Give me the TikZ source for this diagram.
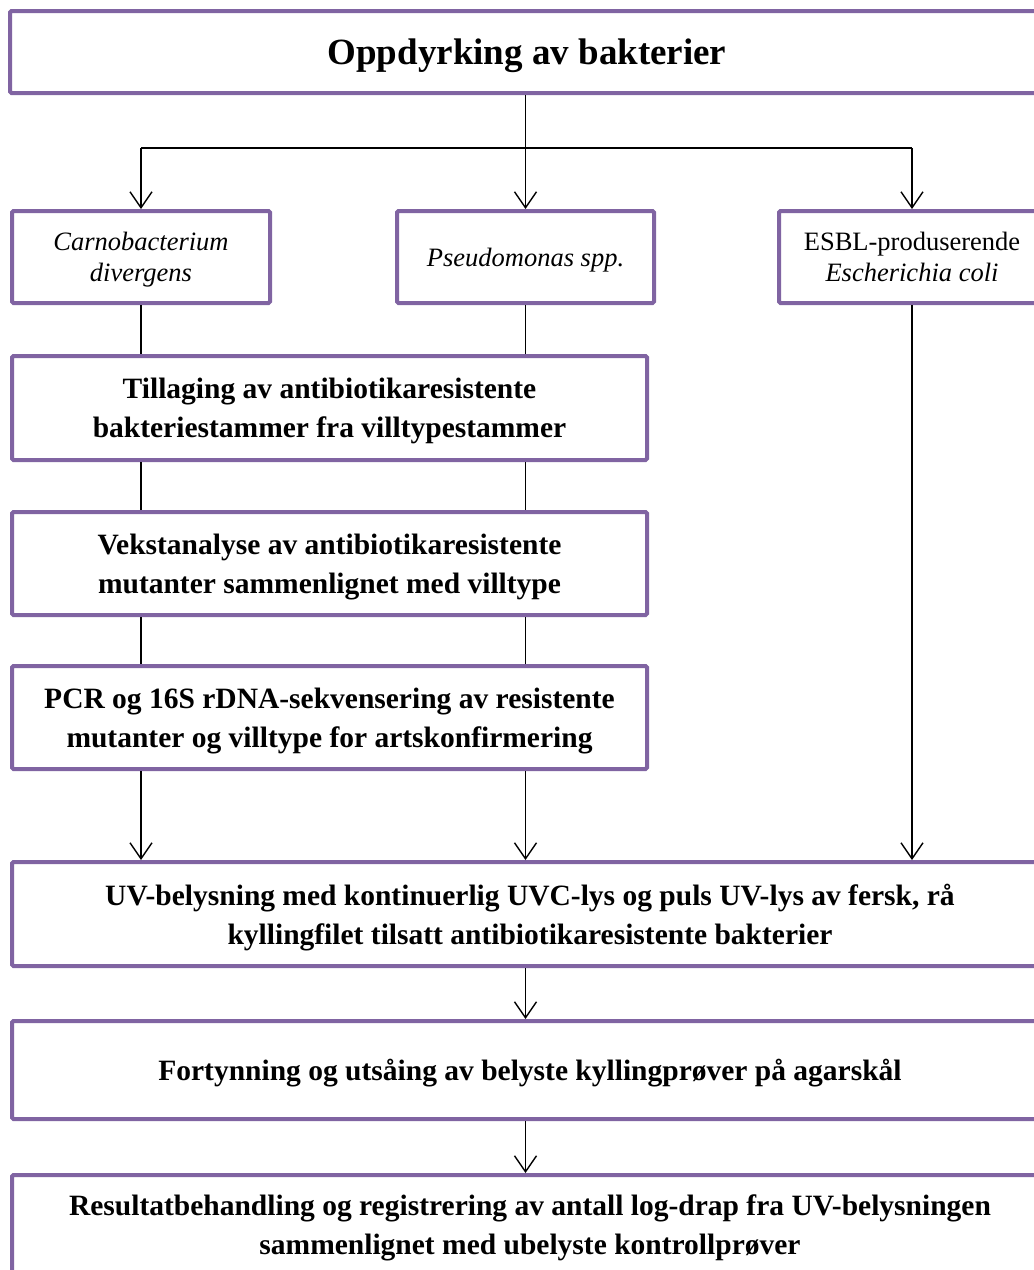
\documentclass[tikz,border=0pt]{standalone}
\usepackage{fontspec}
\setmainfont{Liberation Serif}
\usetikzlibrary{arrows.meta}
\definecolor{boxpurple}{HTML}{8064A2}
\begin{document}
\begin{tikzpicture}[x=1pt,y=-1pt,
 box/.style={draw=boxpurple,line width=4pt,rounded corners=1.5pt,fill=white,inner sep=0pt,align=center,text=black,text depth=0pt},
 conn/.style={draw=black,line width=1.4pt},
 arr/.style={conn,-{Straight Barb[length=16pt,width=22pt]}},
 bodyrm/.style={font=\fontsize{26.5}{31}\selectfont},
 bodybf/.style={font=\fontsize{29.5}{39}\selectfont\bfseries}]
\useasboundingbox (0,0) rectangle (1034,1270);
\clip (0,0) rectangle (1034,1270);
\node[box,minimum width=1034pt,minimum height=82pt,font=\fontsize{37}{44}\selectfont\bfseries] (top) at (527,52) {Oppdyrking av bakterier};
\node[box,bodyrm,minimum width=258pt,minimum height=92pt] (carno) at (141,257) {\itshape Carnobacterium\\\itshape divergens};
\node[box,bodyrm,minimum width=257pt,minimum height=92pt] (pseudo) at (525.5,257) {\itshape Pseudomonas spp.};
\node[box,bodyrm,minimum width=266pt,minimum height=92pt] (esbl) at (912,257) {ESBL-produserende\\\itshape Escherichia coli};
\node[box,bodybf,minimum width=635pt,minimum height=104pt] (till) at (329.5,408) {Tillaging av antibiotikaresistente\\bakteriestammer fra villtypestammer};
\node[box,bodybf,minimum width=635pt,minimum height=103pt] (vekst) at (329.5,563.5) {Vekstanalyse av antibiotikaresistente\\mutanter sammenlignet med villtype};
\node[box,bodybf,minimum width=635pt,minimum height=103pt] (pcr) at (329.5,717.5) {PCR og 16S rDNA-sekvensering av resistente\\mutanter og villtype for artskonfirmering};
\node[box,bodybf,minimum width=1036pt,minimum height=104pt] (uv) at (530,914) {UV-belysning med kontinuerlig UVC-lys og puls UV-lys av fersk, rå\\kyllingfilet tilsatt antibiotikaresistente bakterier};
\node[box,bodybf,minimum width=1036pt,minimum height=98pt] (fort) at (530,1070) {Fortynning og utsåing av belyste kyllingprøver på agarskål};
\node[box,bodybf,minimum width=1036pt,minimum height=100pt] (res) at (530,1225) {Resultatbehandling og registrering av antall log-drap fra UV-belysningen\\sammenlignet med ubelyste kontrollprøver};
\coordinate (split) at (525.5,148);
\draw[conn] (top.south -| pseudo) -- (split);
\draw[conn] (split -| carno) -- (split -| esbl);
\draw[arr] (split -| carno) -- (carno.north);
\draw[arr] (split) -- (pseudo.north);
\draw[arr] (split -| esbl) -- (esbl.north);
\draw[conn] (carno.south) -- (carno.south |- till.north);
\draw[conn] (pseudo.south) -- (pseudo.south |- till.north);
\draw[conn] (till.south -| carno) -- (vekst.north -| carno);
\draw[conn] (till.south -| pseudo) -- (vekst.north -| pseudo);
\draw[conn] (vekst.south -| carno) -- (pcr.north -| carno);
\draw[conn] (vekst.south -| pseudo) -- (pcr.north -| pseudo);
\draw[arr] (pcr.south -| carno) -- (uv.north -| carno);
\draw[arr] (pcr.south -| pseudo) -- (uv.north -| pseudo);
\draw[arr] (esbl.south) -- (uv.north -| esbl);
\draw[arr] (uv.south -| pseudo) -- (fort.north -| pseudo);
\draw[arr] (fort.south -| pseudo) -- (res.north -| pseudo);
\end{tikzpicture}
\end{document}
